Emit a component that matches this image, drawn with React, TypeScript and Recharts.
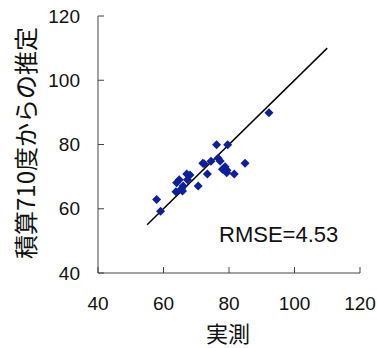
import { ScatterChart, Scatter, XAxis, YAxis, ReferenceLine } from 'recharts';

// measured values (実測)
const measured = [
  57.9, 59.1, 63.8, 64.0, 64.8, 65.5, 65.8, 66.0, 67.1, 68.1, 67.3,
  70.6, 72.0, 72.4, 73.4, 74.5, 76.2, 76.7, 77.3, 78.0, 78.8, 79.3,
  79.4, 79.6, 81.6, 84.9, 92.2,
];
// estimated from 710 degree-days (積算710度からの推定)
const estimated = [
  62.9, 59.2, 65.3, 68.1, 69.0, 66.2, 65.5, 67.1, 70.8, 70.5, 69.0,
  67.1, 74.2, 74.0, 70.8, 74.8, 79.9, 75.7, 74.9, 72.3, 73.1, 71.2,
  72.0, 79.9, 70.8, 74.2, 89.9,
];
const axisTicks = [40, 60, 80, 100, 120];
const fitLine = [55, 110];

const points = measured.map((x, i) => ({ x, y: estimated[i] }));

const font = '"Liberation Sans", Arial, sans-serif';
const cjk = '"Noto Sans CJK JP", sans-serif';

const Diamond = (props: any) => {
  const { cx, cy } = props;
  const r = 4.5;
  return (
    <polygon
      points={`${cx},${cy - r} ${cx + r},${cy} ${cx},${cy + r} ${cx - r},${cy}`}
      fill="#0d1f9c"
    />
  );
};

export default function App() {
  return (
    <div style={{ position: 'absolute', left: 0, top: 0, width: 377, height: 348, background: '#fff', fontFamily: font }}>
      <ScatterChart width={377} height={348} margin={{ top: 16, right: 17, left: 0, bottom: 0 }}>
        <XAxis
          type="number"
          dataKey="x"
          domain={[40, 120]}
          ticks={axisTicks}
          height={75}
          tickSize={-6}
          tickMargin={30}
          stroke="#444"
          tick={{ fill: '#111', fontSize: 19, fontFamily: font }}
        />
        <YAxis
          type="number"
          dataKey="y"
          domain={[40, 120]}
          ticks={axisTicks}
          width={98}
          tickSize={-6}
          tickMargin={24}
          stroke="#444"
          tick={{ fill: '#111', fontSize: 19, fontFamily: font }}
        />
        <XAxis xAxisId="top" orientation="top" type="number" domain={[40, 120]} tick={false} height={0} stroke="#888" />
        <YAxis yAxisId="right" orientation="right" type="number" domain={[40, 120]} tick={false} width={0} stroke="#888" />
        <ReferenceLine
          segment={[{ x: fitLine[0], y: fitLine[0] }, { x: fitLine[1], y: fitLine[1] }]}
          stroke="#000"
          strokeWidth={1.5}
        />
        <Scatter data={points} shape={<Diamond />} isAnimationActive={false} />
      </ScatterChart>
      <div style={{ position: 'absolute', left: 219, top: 222, fontSize: 22, color: '#111' }}>RMSE=4.53</div>
      <div style={{ position: 'absolute', left: 178, top: 320, width: 100, textAlign: 'center', fontSize: 22, color: '#111', fontFamily: cjk, lineHeight: '24px' }}>
        実測
      </div>
      <div
        style={{
          position: 'absolute',
          left: 25,
          top: 143,
          transform: 'translate(-50%, -50%) rotate(-90deg)',
          whiteSpace: 'nowrap',
          fontSize: 24,
          lineHeight: '24px',
          color: '#111',
          fontFamily: cjk,
        }}
      >
        積算710度からの推定
      </div>
    </div>
  );
}
